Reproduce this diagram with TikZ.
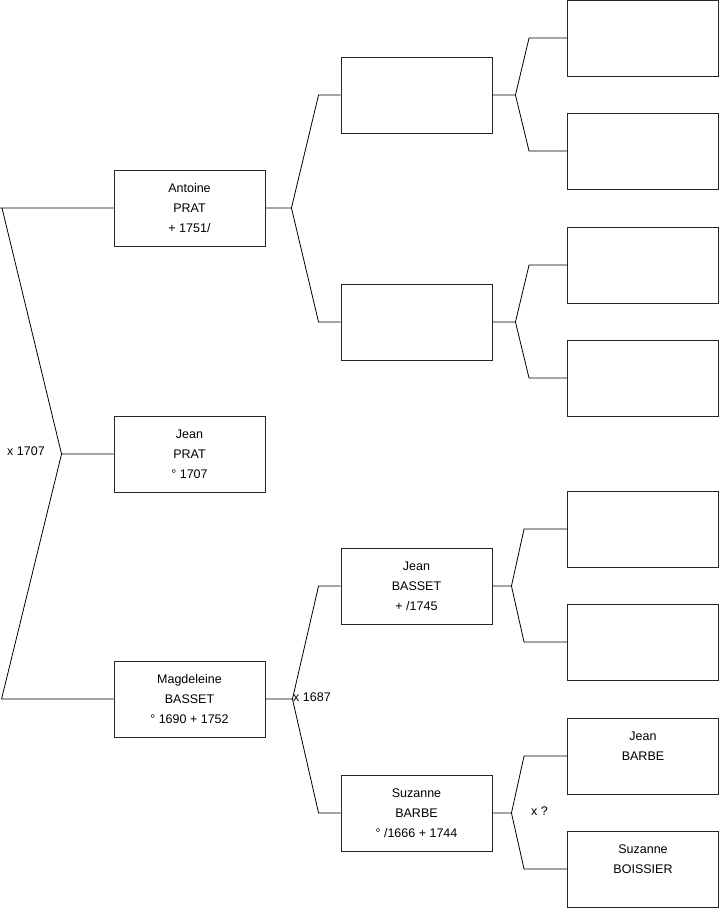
\documentclass[tikz,border=0pt]{standalone}
\usepackage{fontspec}
\setmainfont{Liberation Sans}
\usetikzlibrary{positioning,calc}
\tikzset{
	person/.style={draw=black!85,line width=0.9pt,minimum width=151pt,minimum height=76pt,
		inner sep=0pt,align=center,font=\fontsize{12.5}{20}\selectfont},
	link/.style={draw=black,line width=0.8pt},
	union/.style={anchor=west,inner sep=0pt,font=\fontsize{12.5}{15}\selectfont},
}

\begin{document}
\begin{tikzpicture}[x=1pt,y=-1pt]
	\useasboundingbox (0,0) rectangle (719,908);
	% generation 1
	\node[person] (antoine) at (189.5,208) {Antoine\\PRAT\\+ 1751/};
	\node[person] (jean) at (189.5,454) {Jean\\PRAT\\° 1707};
	\node[person] (magdeleine) at (189.5,699) {Magdeleine\\BASSET\\° 1690 + 1752};
	% generation 2
	\node[person] (antoineF) at (416.5,95) {};
	\node[person] (antoineM) at (416.5,322) {};
	\node[person] (jeanB) at (416.5,586) {Jean\\BASSET\\+ /1745};
	\node[person] (suzanneB) at (416.5,813) {Suzanne\\BARBE\\° /1666 + 1744};
	% generation 3
	\node[person] (antoineFF) at (643,38) {};
	\node[person] (antoineFM) at (643,151) {};
	\node[person] (antoineMF) at (643,265) {};
	\node[person] (antoineMM) at (643,378) {};
	\node[person] (jeanBF) at (643,529) {};
	\node[person] (jeanBM) at (643,642) {};
	\node[person] (barbeJ) at (643,756) {Jean\\BARBE\\\mbox{}};
	\node[person] (boissierS) at (643,869) {Suzanne\\BOISSIER\\\mbox{}};
	% junctions
	\coordinate (jRoot) at ([xshift=-52pt]jean.west);
	\coordinate (jA) at ([xshift=26pt]antoine.east);
	\coordinate (jM) at ([xshift=27pt]magdeleine.east);
	\coordinate (jAF) at ([xshift=23pt]antoineF.east);
	\coordinate (jAM) at ([xshift=23pt]antoineM.east);
	\coordinate (jJB) at ([xshift=19pt]jeanB.east);
	\coordinate (jSB) at ([xshift=19pt]suzanneB.east);
	\draw[link] (antoine.west) -- ([xshift=-114pt]antoine.west) (antoine.west -| 2,0) -- (jRoot)
		-- ([xshift=-112pt]magdeleine.west) -- (magdeleine.west) (jean.west) -- (jRoot);
	\foreach \c/\f/\m/\j/\d in {antoine/antoineF/antoineM/jA/22,magdeleine/jeanB/suzanneB/jM/22,
		antoineF/antoineFF/antoineFM/jAF/38,antoineM/antoineMF/antoineMM/jAM/38,
		jeanB/jeanBF/jeanBM/jJB/43,suzanneB/barbeJ/boissierS/jSB/43}
	\draw[link] (\f.west) -- ([xshift=-\d pt]\f.west) -- (\j)
		-- ([xshift=-\d pt]\m.west) -- (\m.west) (\c.east) -- (\j);
	% unions
	\node[union] (uRoot) at (7,451) {x 1707};
	\node[union] (uM) at (293,697) {x 1687};
	\node[union] (uSB) at (531,811) {x ?};
\end{tikzpicture}
\end{document}
